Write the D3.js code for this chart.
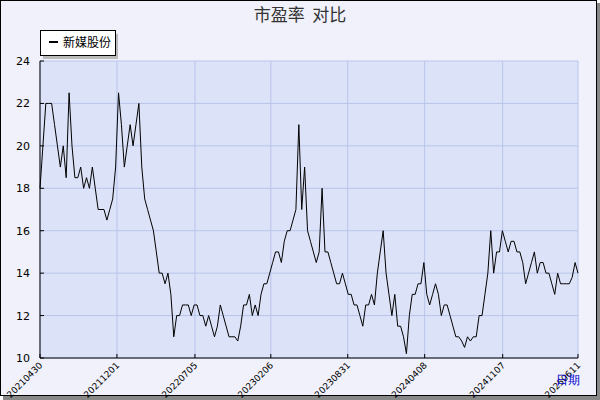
<!DOCTYPE html><html><head><meta charset="utf-8"><script src="https://d3js.org/d3.v7.min.js"></script>
<style>body{margin:0}svg{font-family:"DejaVu Sans",sans-serif}</style></head><body><svg width="600" height="400"></svg>
<script>
const seriesName="新媒股份";
const values=[18,20,22,22,22,21,20,19,20,18.5,22.5,20,18.5,18.5,19,18,18.5,18,19,18,17,17,17,16.5,17,17.5,19,22.5,21,19,20,21,20,21,22,19,17.5,17,16.5,16,15,14,14,13.5,14,13,11,12,12,12.5,12.5,12.5,12,12.5,12.5,12,12,11.5,12,11.5,11,11.5,12.5,12,11.5,11,11,11,10.8,11.5,12.5,12.5,13,12,12.5,12,13,13.5,13.5,14,14.5,15,15,14.5,15.5,16,16,16.5,17,21,17,19,16,15.5,15,14.5,15,18,15,15,14.5,14,13.5,13.5,14,13.5,13,13,12.5,12.5,12,11.5,12.5,12.5,13,12.5,14,15,16,14,13,12,13,11.5,11.5,11,10.2,12,13,13,13.5,13.5,14.5,13,12.5,13,13.5,13,12,12.5,12.5,12,11.5,11,11,10.8,10.5,11,10.8,11,11,12,12,13,14,16,14,15,15,16,15.5,15,15.5,15.5,15,15,14.5,13.5,14,14.5,15,14,14.5,14.5,14,14,13.5,13,14,13.5,13.5,13.5,13.5,13.8,14.5,14];
const xLabels=["20210430","20211201","20220705","20230206","20230831","20240408","20241107","20250611"];
const xLabelFrac=[0,0.143,0.288,0.429,0.572,0.715,0.860,1];
const yTicks=[10,12,14,16,18,20,22,24];
const svg=d3.select("svg");
const L=40,R=578,T=61,B=358;
svg.append("rect").attr("x",3).attr("y",3).attr("width",597).attr("height",397).attr("fill","#888");
svg.append("rect").attr("x",0.5).attr("y",0.5).attr("width",596).attr("height",395).attr("fill","#f0f1fa").attr("stroke","#000");
const x=d3.scaleLinear().domain([0,values.length-1]).range([L,R]);
const y=d3.scaleLinear().domain([10,24]).range([B,T]);
svg.append("rect").attr("x",L).attr("y",T).attr("width",R-L).attr("height",B-T).attr("fill","#dce2f7");
const g=svg.append("g");
xLabelFrac.forEach(f=>{const px=L+f*(R-L);g.append("line").attr("x1",px).attr("x2",px).attr("y1",T).attr("y2",B).attr("stroke","#b8c4ec");});
yTicks.forEach(t=>g.append("line").attr("x1",L).attr("x2",R).attr("y1",y(t)).attr("y2",y(t)).attr("stroke","#b8c4ec"));
svg.append("path").datum(values).attr("fill","none").attr("stroke","#000").attr("stroke-width",1)
 .attr("d",d3.line().x((d,i)=>x(i)).y(d=>y(d)));
svg.append("line").attr("x1",L).attr("x2",L).attr("y1",T).attr("y2",B).attr("stroke","#000");
svg.append("line").attr("x1",L).attr("x2",R).attr("y1",B).attr("y2",B).attr("stroke","#000");
yTicks.forEach(t=>{svg.append("text").attr("x",30).attr("y",y(t)+4).attr("text-anchor","end").attr("font-size",11).text(t);
 svg.append("line").attr("x1",L).attr("x2",L+4).attr("y1",y(t)).attr("y2",y(t)).attr("stroke","#000");});
xLabels.forEach((s,i)=>{const px=L+xLabelFrac[i]*(R-L);
 svg.append("line").attr("x1",px).attr("x2",px).attr("y1",B).attr("y2",B-4).attr("stroke","#000");
 svg.append("text").attr("transform",`translate(${px+3},${B+8}) rotate(-45)`).attr("text-anchor","end").attr("font-size",9).text(s);});
svg.append("text").attr("x",580).attr("y",384).attr("text-anchor","end").attr("font-size",12).attr("fill","#0000cc").text("日期");
svg.append("text").attr("x",300).attr("y",21).attr("text-anchor","middle").attr("font-size",17).attr("fill","#333").attr("font-family","Noto Sans CJK SC").style("white-space","pre").text("市盈率  对比");
svg.append("rect").attr("x",43).attr("y",34).attr("width",75).attr("height",25).attr("fill","#bbb");
svg.append("rect").attr("x",40.5).attr("y",30.5).attr("width",75).attr("height",25).attr("fill","#fff").attr("stroke","#000");
svg.append("line").attr("x1",49).attr("x2",58).attr("y1",42).attr("y2",42).attr("stroke","#000").attr("stroke-width",2);
svg.append("text").attr("x",63).attr("y",47).attr("font-size",12).attr("font-family","Noto Sans CJK SC").text(seriesName);
</script></body></html>
